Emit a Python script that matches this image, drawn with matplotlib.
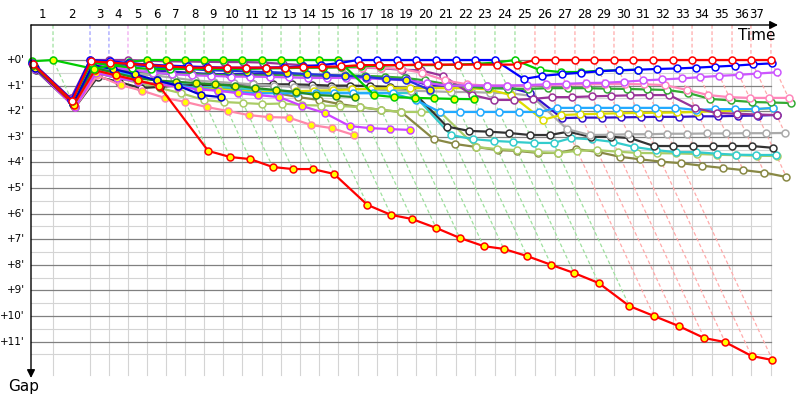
import matplotlib
matplotlib.use('Agg')
import matplotlib.pyplot as plt

# leader's elapsed time (minutes) at the end of each lap (lap 0 = start)
leader_time = [0, 1.85, 4.96, 6.55, 8.15, 9.75, 11.34, 12.94, 14.54, 16.13, 17.73,
               19.41, 21.01, 22.61, 24.20, 25.80, 27.48, 29.08, 30.76, 32.35, 34.03,
               35.71, 37.31, 38.99, 40.67, 42.35, 44.03, 45.71, 47.31, 48.99, 50.59,
               52.27, 53.95, 55.55, 57.23, 58.91, 60.50, 62.18]
lap_labels = [str(i) for i in range(1, 38)]
gap_ticks = list(range(0, 12))
gap_labels = ["+%d'" % g for g in gap_ticks]
lap_line_kind = ['g', 'b', 'b', 'p'] + ['g'] * 20 + ['r'] * 13

# gaps to the leader (minutes), one value per completed lap, starting at lap 0
red_w = [0.15, 1.6, 0.05, 0.1, 0.15, 0.2, 0.25, 0.3, 0.3, 0.3, 0.3, 0.3, 0.3, 0.28, 0.27,
         0.25, 0.2, 0.2, 0.2, 0.18, 0.18, 0.18, 0.18, 0.18, 0.18,
         0, 0, 0, 0, 0, 0, 0, 0, 0, 0, 0, 0, 0]
blue_w = [0.1, 1.55, 0.0, 0.05, 0.12, 0.18, 0.22, 0.25, 0.28, 0.3, 0.3, 0.3, 0.28, 0.25,
          0.2, 0.12, 0, 0, 0, 0, 0, 0, 0, 0,
          0.74, 0.62, 0.55, 0.5, 0.44, 0.4, 0.38, 0.35, 0.33, 0.3, 0.26, 0.22, 0.17, 0.13]
green_y = [0.05, 0.0, 0.35, 0.2, 0.08, 0, 0, 0, 0, 0, 0, 0, 0, 0, 0, 0,
           1.37, 1.45, 1.48, 1.5, 1.52, 1.53]
green_w = [0.2, 1.6, 0.1, 0.2, 0.3, 0.35, 0.35, 0.35, 0.35, 0.35, 0.35, 0.33, 0.32, 0.3,
           0.3, 0.28, 0.25, 0.22, 0.2, 0.2, 0.2, 0.18, 0.15, 0.1, 0.0,
           0.39, 0.47, 0.47, 0.42, 0.4, 0.38]
violet_w = [0.25, 1.65, 0.15, 0.3, 0.4, 0.5, 0.55, 0.6, 0.62, 0.65,
            0.65, 0.66, 0.68, 0.7, 0.7, 0.7, 0.72, 0.75, 0.8, 0.9,
            1.0, 1.0, 1.0, 1.0, 0.98, 0.95, 0.93, 0.9, 0.89, 0.85,
            0.8, 0.76, 0.72, 0.67, 0.62, 0.58, 0.53, 0.48]
pink_w = [0.3, 1.7, 0.2, 0.3, 0.35, 0.35, 0.35, 0.35, 0.35, 0.35, 0.33, 0.3, 0.3, 0.3,
          0.3, 0.3, 0.3, 0.3, 0.35,
          0.5, 0.8, 0.95, 1.0, 1.0, 1.0, 0.97, 0.96, 0.95, 0.94, 0.94, 0.95, 0.98,
          1.17, 1.37, 1.45, 1.48, 1.48, 1.48]
forest_w = [0.2, 1.65, 0.2, 0.35, 0.45, 0.5, 0.55, 0.55, 0.58, 0.6, 0.6, 0.6, 0.6, 0.6,
            0.6, 0.6, 0.62, 0.65, 0.7, 0.8,
            0.95, 1.05, 1.1, 1.12, 1.13, 1.1, 1.1, 1.1, 1.12, 1.13, 1.15, 1.17, 1.29,
            1.52, 1.58, 1.64, 1.66, 1.68]
purple_w = [0.1, 1.5, 0.0, 0.0, 0.0, 0.03, 0.05, 0.06, 0.07, 0.08, 0.08, 0.1, 0.15, 0.2,
            0.25, 0.28, 0.3, 0.32, 0.38, 0.4, 0.62,
            1.37, 1.56, 1.56, 1.52, 1.45, 1.45, 1.42, 1.4, 1.38, 1.37, 1.37, 1.88, 2.07,
            2.1, 2.13, 2.15]
lightblue_w = [0.25, 1.75, 0.3, 0.45, 0.6, 0.8, 1.0, 1.1, 1.2, 1.25, 1.3, 1.3, 1.3, 1.3,
               1.3, 1.3, 1.3, 1.3,
               1.56, 2.03, 2.03, 2.03, 2.03, 2.03, 2.03, 1.87, 1.87, 1.87, 1.87, 1.87,
               1.87, 1.87, 1.95, 1.92, 1.92, 1.92, 1.87]
yellow_w = [0.3, 1.8, 0.4, 0.6, 0.8, 0.95, 1.05, 1.1, 1.15, 1.2, 1.25, 1.25, 1.22, 1.2,
            1.18, 1.15, 1.12, 1.1, 1.1, 1.1, 1.1, 1.1, 1.15, 1.37,
            2.34, 2.15, 2.12, 2.1, 2.08, 2.07, 2.06, 2.05, 2.03, 2.0, 1.98, 1.92, 1.88]
indigo_w = [0.15, 1.6, 0.1, 0.2, 0.3, 0.4, 0.45, 0.5, 0.55, 0.55, 0.55, 0.55, 0.55, 0.6,
            0.62, 0.65, 0.7, 0.7, 0.72, 0.98, 1.0, 1.0, 1.02, 1.05,
            1.3, 2.27, 2.25, 2.25, 2.24, 2.23, 2.22, 2.22, 2.2, 2.2, 2.18, 2.17, 2.15]
gray_w = [0.3, 1.8, 0.3, 0.45, 0.55, 0.6, 0.7, 0.8, 0.85, 0.9, 0.95, 1.0, 1.05, 1.08,
          1.1, 1.12, 1.15, 1.18, 1.2, 1.22, 1.25, 1.25, 1.28, 1.3, 1.4,
          2.7, 2.93, 2.92, 2.9, 2.9, 2.88, 2.88, 2.87, 2.87, 2.86, 2.86, 2.85]
black_w = [0.4, 1.85, 0.66, 0.86, 1.1, 1.05, 1.0, 0.98, 0.97, 0.96, 0.95, 0.95, 0.95,
           0.97, 1.0, 1.0, 1.02, 1.05, 1.15, 2.6, 2.77, 2.8, 2.85, 2.93, 2.93, 2.8, 3.0,
           3.0, 3.05, 3.36, 3.36, 3.36, 3.36, 3.36, 3.36, 3.43]
cyan_w = [0.2, 1.7, 0.35, 0.5, 0.65, 0.8, 0.9, 1.0, 1.05, 1.1,
          1.15, 1.2, 1.22, 1.25, 1.27, 1.28, 1.28, 1.28, 1.3, 2.93,
          3.09, 3.16, 3.2, 3.24, 3.24, 3.05, 3.1, 3.2, 3.4, 3.52,
          3.6, 3.6, 3.66, 3.7, 3.71, 3.71]
lightgreen_w = [0.3, 1.8, 0.5, 0.7, 0.9, 1.1, 1.3, 1.56, 1.64, 1.68,
                1.72, 1.7, 1.76, 1.78, 1.8, 1.84, 1.95, 2.03, 2.03, 2.03,
                3.4, 3.48, 3.52, 3.6, 3.63, 3.55, 3.52, 3.58, 3.63, 3.64,
                3.65, 3.67, 3.7, 3.72, 3.74, 3.75]
olive_w = [0.35, 1.8, 0.5, 0.7, 0.85, 0.95, 1.0, 1.05, 1.1, 1.15,
           1.2, 1.3, 1.45, 1.56, 1.72, 1.84, 1.95, 2.03, 3.09, 3.28,
           3.4, 3.52, 3.55, 3.63, 3.63, 3.48, 3.59, 3.78, 3.88, 3.97,
           4.03, 4.13, 4.22, 4.3, 4.4, 4.57]
red_y = [0.2, 1.75, 0.4, 0.6, 0.8, 1.0, 3.55, 3.79, 3.87, 4.18, 4.26, 4.26, 4.45, 5.66,
         6.05, 6.21, 6.56, 6.95, 7.27, 7.38, 7.66, 8.0, 8.32, 8.71, 9.61, 10.0, 10.39,
         10.86, 11.02, 11.56, 11.72]
pink_y = [0.3, 1.85, 0.6, 0.98, 1.2, 1.48, 1.64, 1.84, 1.99, 2.15, 2.23, 2.25, 2.54,
          2.66, 2.93]
violet_y = [0.35, 1.85, 0.5, 0.7, 0.85, 0.95, 1.05, 1.15, 1.2, 1.3, 1.37, 1.45, 1.8,
            2.07, 2.58, 2.66, 2.7, 2.73]
navy_y = [0.3, 1.7, 0.2, 0.35, 0.55, 0.8, 1.0, 1.37, 1.45]
navy2_y = [0.15, 1.6, 0.05, 0.15, 0.2, 0.25, 0.3, 0.35, 0.4, 0.42, 0.45, 0.47, 0.5,
           0.55, 0.58, 0.62, 0.66, 0.74, 0.78, 1.17]
forest_y = [0.25, 1.7, 0.3, 0.5, 0.7, 0.8, 0.85, 0.9, 0.95, 1.0, 1.1, 1.17, 1.25, 1.37,
            1.4, 1.45]

drivers = [
    ('#888844', 'white', olive_w),
    ('#aacc66', 'white', lightgreen_w),
    ('#33cccc', 'white', cyan_w),
    ('#333333', 'white', black_w),
    ('#aaaaaa', 'white', gray_w),
    ('#3311cc', 'white', indigo_w),
    ('#dddd00', 'white', yellow_w),
    ('#22aaff', 'white', lightblue_w),
    ('#993399', 'white', purple_w),
    ('#33aa33', 'white', forest_w),
    ('#ff88bb', 'white', pink_w),
    ('#cc55ff', 'white', violet_w),
    ('#ff88aa', '#ffff00', pink_y),
    ('#cc44ff', '#ffff00', violet_y),
    ('#228b22', '#ffff00', forest_y),
    ('#0000cc', '#ffff00', navy_y),
    ('#2233dd', '#ffff00', navy2_y),
    ('#ff0000', '#ffff00', red_y),
    ('#00cc00', 'white', green_w),
    ('#00cc00', '#ffff00', green_y),
    ('#0000ff', 'white', blue_w),
    ('#ff0000', 'white', red_w),
]

dash_colors = {'g': '#9ee09e', 'b': '#a0a0ff', 'p': '#f0a8f0', 'r': '#ffaaaa'}

# pixel-like mapping: 11.9 px per minute horizontally, 25.6 px per minute vertically
SX, SY = 11.9, 25.6
fig = plt.figure(figsize=(8, 4), dpi=100)
ax = fig.add_axes([0, 0, 1, 1])
ax.set_xlim(-31 / SX, 769 / SX)
ax.set_ylim(340 / SY, -60 / SY)
ax.axis('off')

top = -35 / SY
bottom = 315 / SY
t_end = leader_time[-1]

# grid
for t in leader_time[1:]:
    ax.plot([t, t], [0, bottom], color='#d4d4d4', lw=0.8, zorder=1)
for g in gap_ticks:
    ax.plot([0, t_end], [g + 0.5, g + 0.5], color='#d4d4d4', lw=0.8, zorder=1)
    ax.plot([0, t_end], [g, g], color='#808080', lw=0.9, zorder=1.1)

# lap lines (dashed)
for n in range(1, len(leader_time)):
    gaps_n = [d[2][n] for d in drivers if len(d[2]) > n]
    gmax = max(gaps_n) if gaps_n else 0
    c = dash_colors[lap_line_kind[n - 1]]
    t = leader_time[n]
    ax.plot([t, t, t + gmax], [top, 0, gmax], color=c, lw=0.9,
            dashes=(3, 2), zorder=1.5)

# drivers
for color, face, gaps in drivers:
    xs = [leader_time[i] + g for i, g in enumerate(gaps)]
    ax.plot(xs, gaps, color=color, lw=1.6, marker='o', markersize=5,
            markerfacecolor=face, markeredgecolor=color, markeredgewidth=1.1,
            zorder=3, solid_joinstyle='round')

# axes with arrows
ax.annotate('', xy=(778 / SX - 31 / SX, top), xytext=(0, top),
            arrowprops=dict(arrowstyle='-|>', color='black', lw=1.0,
                            mutation_scale=12, shrinkA=0, shrinkB=0), zorder=5)
ax.annotate('', xy=(0, 318 / SY), xytext=(0, top),
            arrowprops=dict(arrowstyle='-|>', color='black', lw=1.0,
                            mutation_scale=12, shrinkA=0, shrinkB=0), zorder=5)
ax.text(726 / SX, -25 / SY, 'Time', fontsize=11, ha='center', va='center')
ax.text(-7 / SX, 327 / SY, 'Gap', fontsize=11, ha='center', va='center')

# lap labels
for i, lab in enumerate(lap_labels):
    if i + 1 < len(lap_labels):
        xm = (leader_time[i] + leader_time[i + 1]) / 2
    else:
        xm = leader_time[i] + 0.45
    ax.text(xm, -45 / SY, lab, fontsize=8.5, ha='center', va='center')

# gap labels
for g, lab in zip(gap_ticks, gap_labels):
    ax.text(-6 / SX, g, lab, fontsize=7.5, ha='right', va='center')

fig.savefig('out.png', dpi=100)
